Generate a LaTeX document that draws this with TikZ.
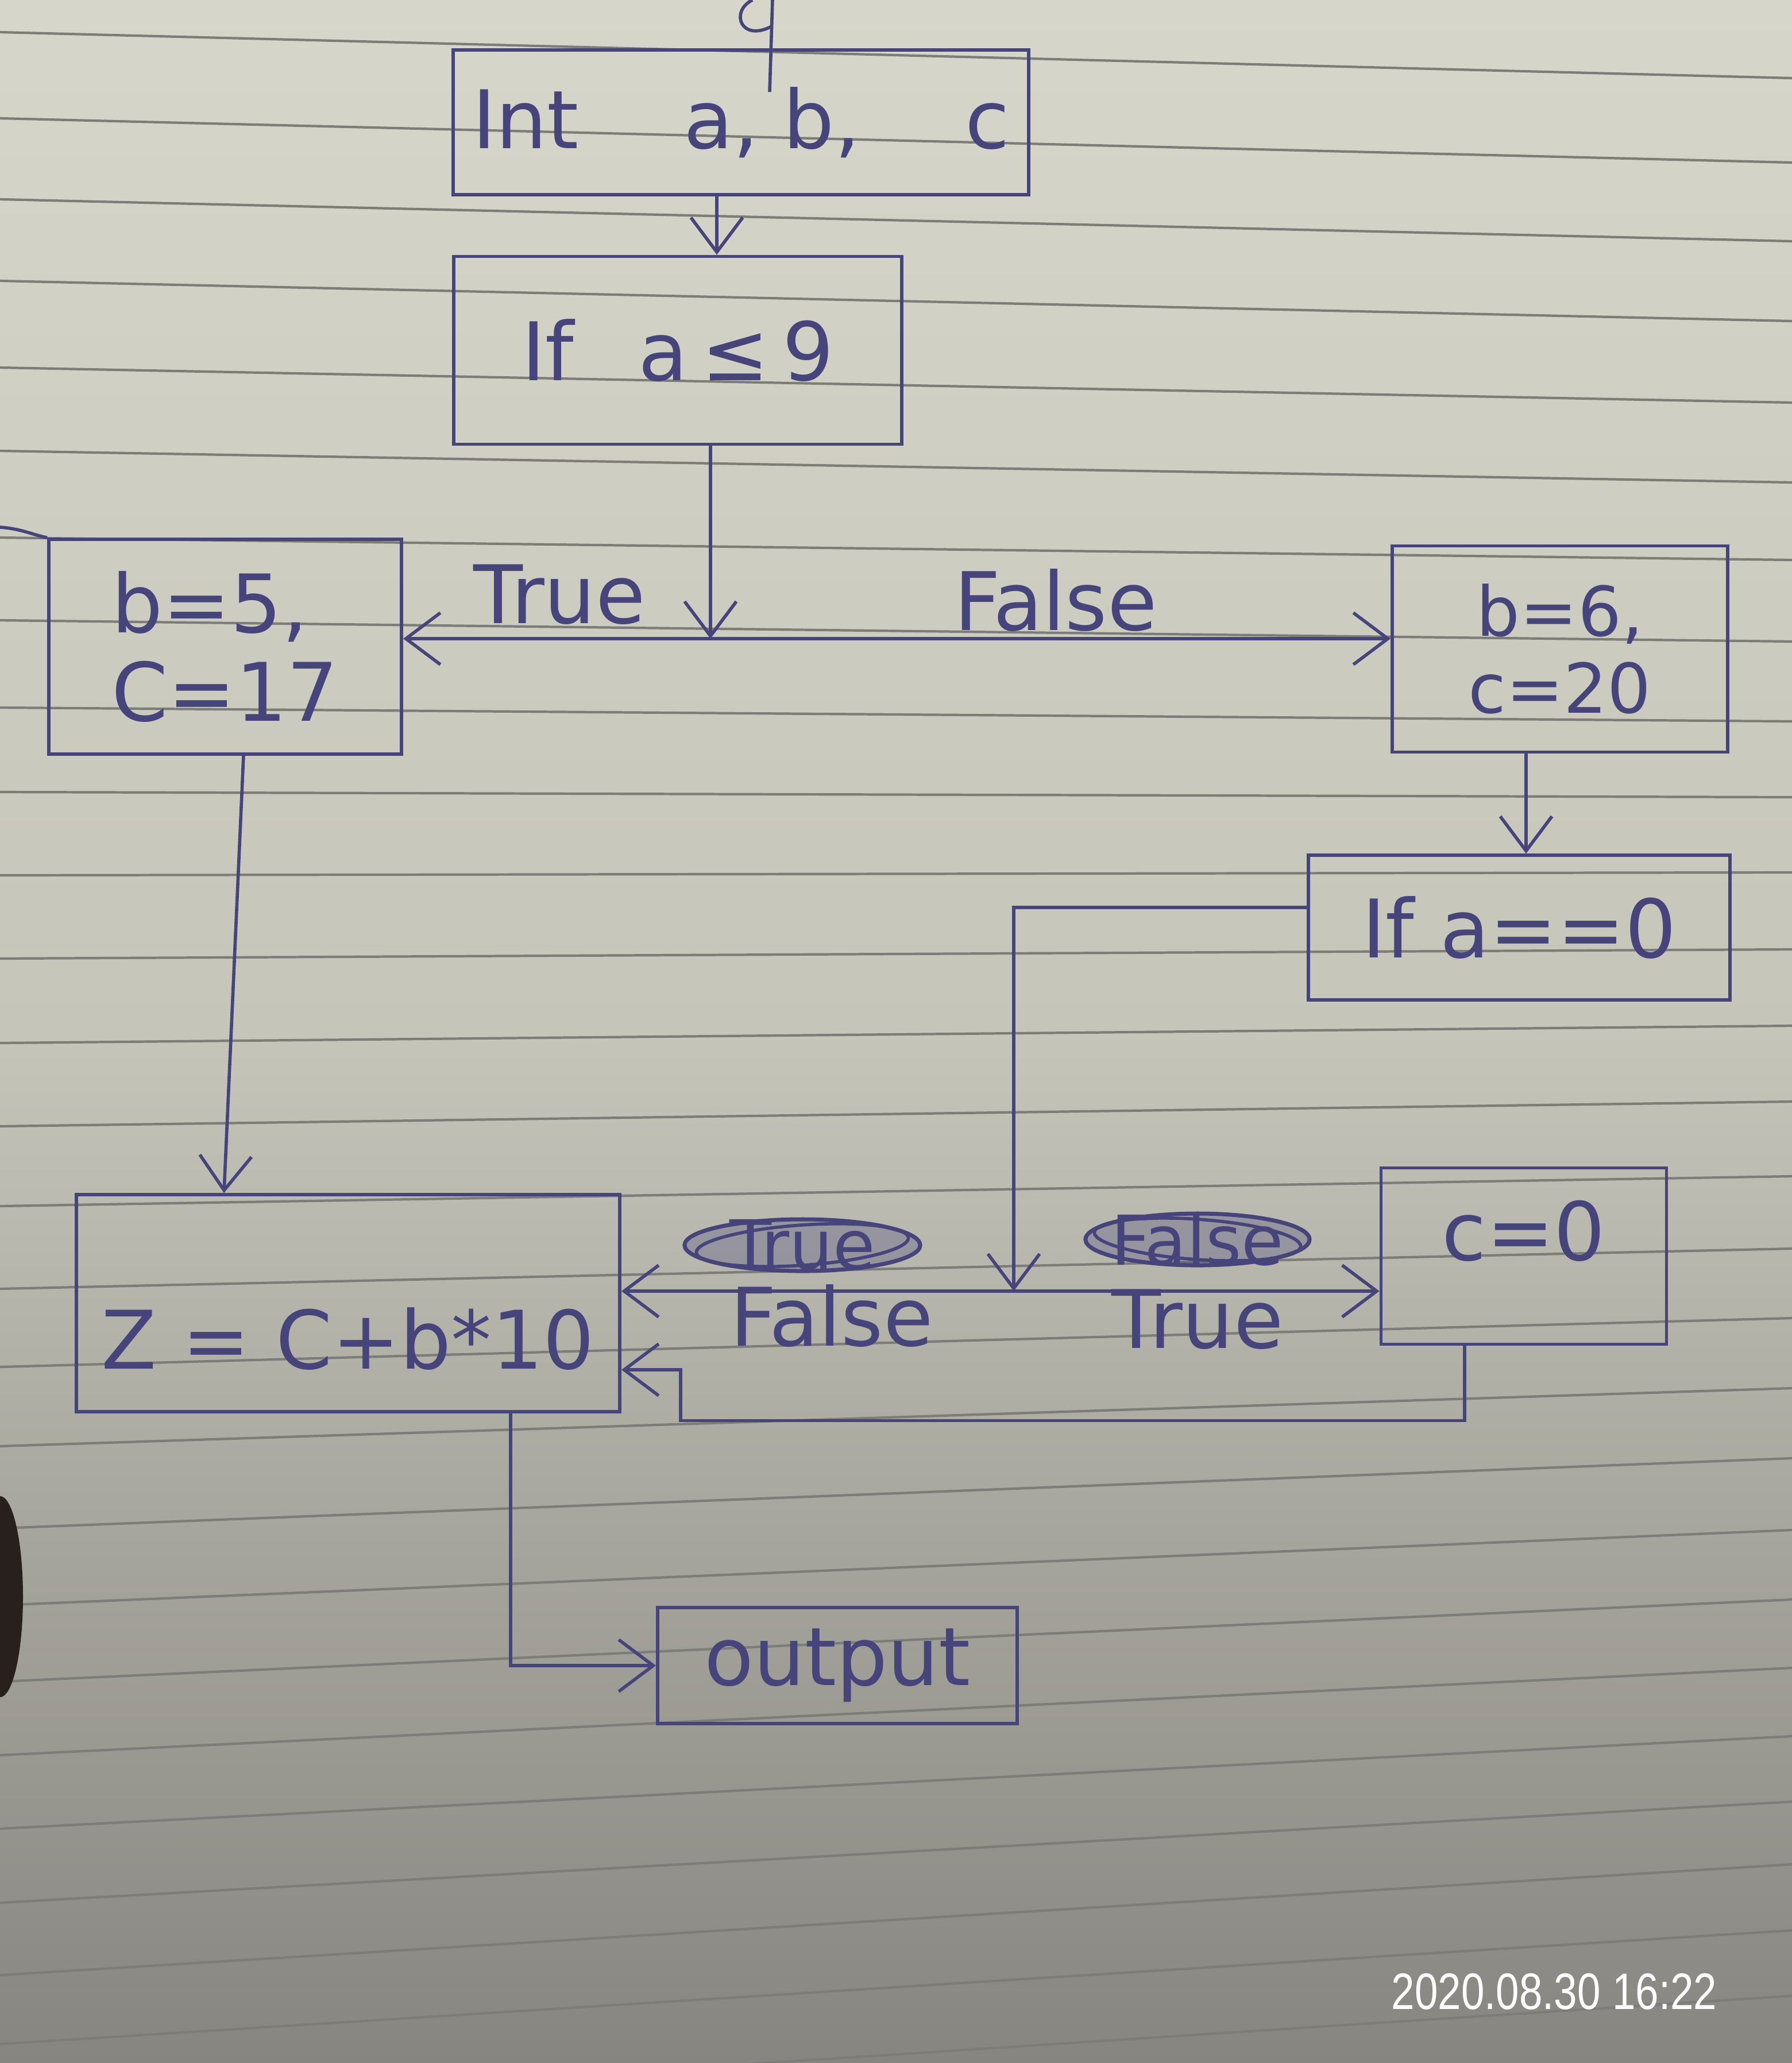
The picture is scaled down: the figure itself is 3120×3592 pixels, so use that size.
\documentclass[tikz,border=0pt]{standalone}
\usepackage{fontspec}
\usepackage{graphicx}
\setmainfont{DejaVu Sans}
\newfontfamily\stampfont{Liberation Sans}
\usetikzlibrary{arrows.meta,calc}
\definecolor{ink}{RGB}{70,68,122}
\definecolor{paperTop}{RGB}{215,214,203}
\definecolor{paperMid}{RGB}{198,197,186}
\definecolor{paperBot}{RGB}{134,133,128}
\definecolor{ruleline}{RGB}{124,124,120}
\definecolor{blob}{RGB}{40,32,28}
\begin{document}
\begin{tikzpicture}[x=0.01cm,y=-0.01cm,
  box/.style={draw=ink,line width=1.6pt,inner sep=0pt,text=ink,font=\fontsize{40}{44}\selectfont},
  lab/.style={text=ink,inner sep=0pt,font=\fontsize{40}{44}\selectfont},
  conn/.style={draw=ink,line width=1.6pt},
  arr/.style={conn,-{Straight Barb[length=6mm,width=9mm]}},
  ruled/.style={draw=ruleline,line width=1.2pt}]
\useasboundingbox (0,0) rectangle (3120,3592);
% paper
\shade[top color=paperTop,bottom color=paperMid] (0,0) rectangle (3120,1801);
\shade[top color=paperMid,bottom color=paperBot] (0,1800) rectangle (3120,3592);
\foreach \a/\b in {56/136,206/283,347/420,489/559,640/701,785/840,936/975,1080/1117,1232/1256,1379/1388,1524/1519,1669/1653,1816/1786,1961/1918,2100/2048,2244/2174,2380/2295,2518/2417,2661/2539,2795/2664,2928/2785,3056/2904,3184/3023,3313/3137,3439/3246,3559/3361,3679/3475}
  \draw[ruled] (0,\a) -- (3120,\b);
\fill[blob] (0,2780) ellipse [x radius=0.4cm, y radius=1.75cm];

% boxes
\node[box,minimum width=10.01cm,minimum height=2.52cm] (int) at (1290,213) {Int\hspace{1.3em}a,\hspace{0.3em}b,\hspace{1.3em}c};
\node[box,minimum width=7.79cm,minimum height=3.27cm] (ifa) at (1180,610) {If\hspace{0.8em}a\,≤\,9};
\node[box,minimum width=6.14cm,minimum height=3.74cm,align=left] (b5) at (392,1126) {b=5,\\C=17};
\node[box,minimum width=5.84cm,minimum height=3.59cm,align=center,font=\fontsize{34}{38}\selectfont] (b6) at (2716,1130) {b=6,\\c=20};
\node[box,minimum width=7.33cm,minimum height=2.52cm] (ifz) at (2645,1615) {If a==0};
\node[box,minimum width=4.97cm,minimum height=3.07cm,text depth=0.9cm] (c0) at (2653,2187) {c=0};
\node[box,minimum width=9.46cm,minimum height=3.78cm,text height=2.3cm] (z) at (606,2269) {Z = C+b*10};
\node[box,minimum width=6.26cm,minimum height=2.02cm] (out) at (1458,2900) {output};
% stray top stroke of the b=5 box
\draw[conn] (0,918) .. controls (35,920) and (60,932) .. (b5.north west);

% labels
\node[lab] (lT1) at (974,1035) {True};
\node[lab] (lF1) at (1838,1045) {False};
\node[lab,font=\fontsize{34}{38}\selectfont] (lT2x) at (1397,2168) {True};
\node[lab,font=\fontsize{34}{38}\selectfont] (lF2x) at (2085,2158) {False};
\node[lab] (lF2) at (1448,2291) {False};
\node[lab] (lT2) at (2085,2297) {True};
% scribbles over crossed labels
\draw[ink,line width=2pt,fill=ink,fill opacity=0.3] (lT2x.center) ellipse [x radius=2.05cm, y radius=0.45cm];
\draw[ink,line width=1.6pt,rotate around={4:(lT2x.center)}] (lT2x.center) ellipse [x radius=1.85cm, y radius=0.35cm];
\draw[ink,line width=2pt,fill=ink,fill opacity=0.3] (lF2x.center) ellipse [x radius=1.95cm, y radius=0.45cm];
\draw[ink,line width=1.6pt,rotate around={-4:(lF2x.center)}] (lF2x.center) ellipse [x radius=1.8cm, y radius=0.35cm];

% start stroke
\coordinate (topIn) at (1345,0);
\draw[conn] (topIn) -- ($(int.north)+(50,76)$);
\draw[conn] (1345,45) .. controls (1290,75) and (1270,20) .. (1310,0);

% connectors
\draw[arr] ($(int.south)+(-42,0)$) -- ($(ifa.north)+(68,0)$);
\coordinate (j1) at (1237,1112);
\draw[arr] ($(ifa.south)+(57,0)$) -- (j1);
\draw[arr] (j1) -- (b5.east |- j1);
\draw[arr] (j1) -- (b6.west |- j1);
\draw[arr] ($(b6.south)+(-59,0)$) -- ($(ifz.north)+(12,0)$);
\coordinate (j2) at (1765,2248);
\draw[arr] ($(ifz.west)+(0,-35)$) -| (j2);
\draw[arr] (j2) -- (z.east |- j2);
\draw[arr] (j2) -- (c0.west |- j2);
\coordinate (loopA) at (1185,2385);
\draw[arr] ($(c0.south)+(-103,0)$) -- ++(0,130) -| (loopA) -- (loopA -| z.east);
\draw[arr] ($(b5.south)+(32,0)$) -- ($(z.north)+(-216,0)$);
\draw[arr] ($(z.south)+(283,0)$) |- (out.west);

% timestamp
\node[text=white,inner sep=0pt,font=\stampfont\fontsize{25.4}{28}\selectfont] (stamp) at (2706,3468) {\scalebox{0.815}[1]{2020.08.30 16:22}};
\end{tikzpicture}
\end{document}
